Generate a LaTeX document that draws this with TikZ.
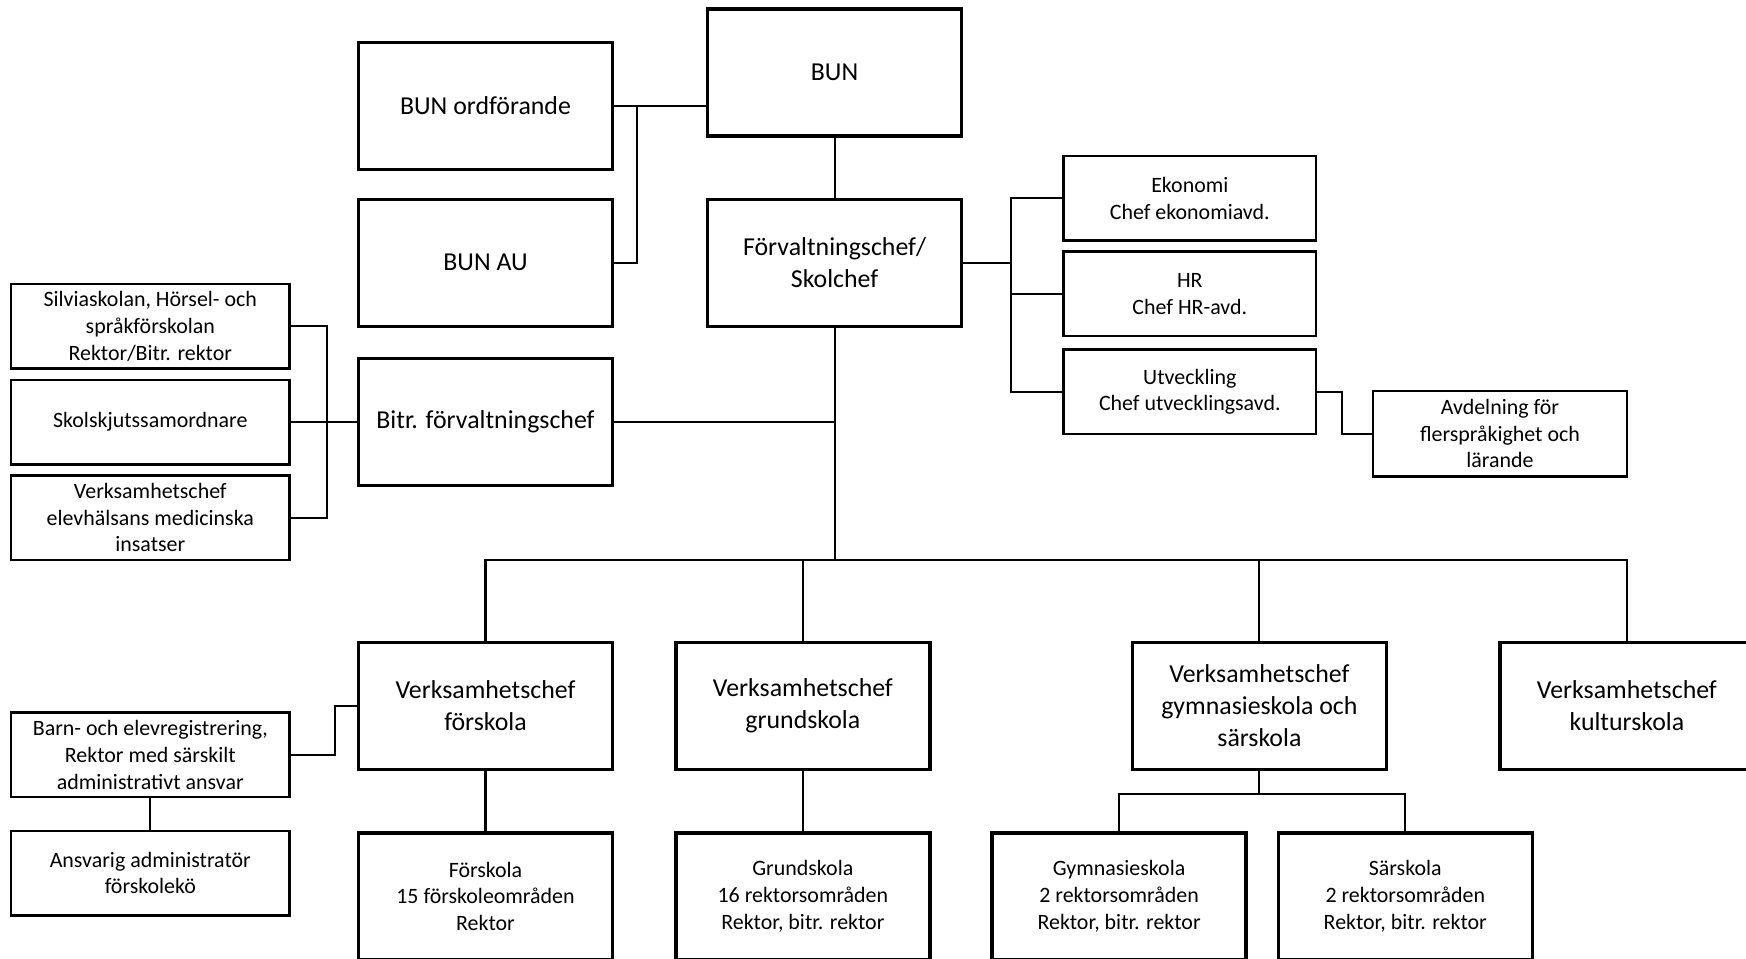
\documentclass[tikz,border=0pt]{standalone}
\usepackage{fontspec}
\setmainfont{Carlito}
\tikzset{
  bigbox/.style={draw, line width=2.2pt, minimum width=5.7cm, minimum height=2.85cm,
    align=center, inner sep=2pt, font=\fontsize{16.5}{20.5}\selectfont},
  smallbox/.style={draw, line width=1.5pt, minimum width=6.25cm, minimum height=1.9cm,
    align=center, inner sep=2pt, font=\fontsize{14}{17}\selectfont},
  staffbox/.style={smallbox, minimum width=5.675cm},
  link/.style={line width=1.3pt}
}
\begin{document}
\begin{tikzpicture}[x=0.025cm, y=-0.025cm]
\useasboundingbox (0,0) rectangle (1568,861.2);
\clip (0,0) rectangle (1568,861.2);

% top
\node (bun) [bigbox] at (749.5,65) {BUN};
\node (ordf) [bigbox] at (436,95) {BUN ordförande};
\node (au) [bigbox] at (436,236) {BUN AU};
\node (forv) [bigbox] at (749.5,236) {Förvaltningschef/\\Skolchef};
\node (bitr) [bigbox] at (436,379) {Bitr. förvaltningschef};

% staff
\node (ekonomi) [staffbox] at (1068.5,178) {Ekonomi\\Chef ekonomiavd.};
\node (hr) [staffbox] at (1068.5,264) {HR\\Chef HR-avd.};
\node (utv) [staffbox] at (1068.5,352) {Utveckling\\Chef utvecklingsavd.};
\node (avd) [smallbox, minimum width=5.7cm, minimum height=1.925cm] at (1347,389.5)
  {Avdelning för\\flerspråkighet och\\lärande};

\node (silvia) [smallbox] at (135,293) {Silviaskolan, Hörsel- och\\språkförskolan\\Rektor/Bitr. rektor};
\node (skjuts) [smallbox] at (135,379) {Skolskjutssamordnare};
\node (elev) [smallbox] at (135,465) {Verksamhetschef\\elevhälsans medicinska\\insatser};

% verksamheter
\node (vforsk) [bigbox] at (436,634) {Verksamhetschef\\förskola};
\node (vgrund) [bigbox] at (721,634) {Verksamhetschef\\grundskola};
\node (vgymn) [bigbox] at (1131,634) {Verksamhetschef\\gymnasieskola och\\särskola};
\node (vkultur) [bigbox] at (1461,634) {Verksamhetschef\\kulturskola};

\node (barn) [smallbox] at (135,678) {Barn- och elevregistrering,\\Rektor med särskilt\\administrativt ansvar};
\node (ansv) [smallbox] at (135,784) {Ansvarig administratör\\förskolekö};

\node (forskola) [bigbox, font=\fontsize{14}{17}\selectfont] at (436,805) {Förskola\\15 förskoleområden\\Rektor};
\node (grundskola) [bigbox, font=\fontsize{14}{17}\selectfont] at (721,805) {Grundskola\\16 rektorsområden\\Rektor, bitr. rektor};
\node (gymnasieskola) [bigbox, font=\fontsize{14}{17}\selectfont] at (1005,805) {Gymnasieskola\\2 rektorsområden\\Rektor, bitr. rektor};
\node (sarskola) [bigbox, font=\fontsize{14}{17}\selectfont] at (1262,805) {Särskola\\2 rektorsområden\\Rektor, bitr. rektor};

\coordinate (nj) at (572,95);
\coordinate (rj) at (908,236);
\coordinate (lj) at (294,379);
\coordinate (bus) at (749.5,503);
\coordinate (gj) at (1131,713);

\draw [link] (ordf.east) -- (ordf.east -| bun.west);
\draw [link] (au.east) -| (nj);
\draw [link] (bun.south) -- (forv.north);
\draw [link] (forv.east) -- (rj);
\draw [link] (ekonomi.west) -| (rj) |- (utv.west);
\draw [link] (hr.west) -- (hr.west -| rj);
\draw [link] (utv.east) -- ++(22,0) |- (avd.west);
\draw [link] (silvia.east) -| (lj) |- (elev.east);
\draw [link] (skjuts.east) -- (bitr.west);
\draw [link] (bitr.east) -- (bitr.east -| forv.south);
\draw [link] (forv.south) -- (bus);
\draw [link] (vforsk.north) |- (bus) -| (vkultur.north);
\draw [link] (vgrund.north) -- (vgrund.north |- bus);
\draw [link] (vgymn.north) -- (vgymn.north |- bus);
\draw [link] (barn.east) -- ++(40,0) |- (vforsk.west);
\draw [link] (barn.south) -- (ansv.north);
\draw [link] (vforsk.south) -- (forskola.north);
\draw [link] (vgrund.south) -- (grundskola.north);
\draw [link] (vgymn.south) -- (gj);
\draw [link] (gymnasieskola.north) |- (gj) -| (sarskola.north);
\end{tikzpicture}
\end{document}
